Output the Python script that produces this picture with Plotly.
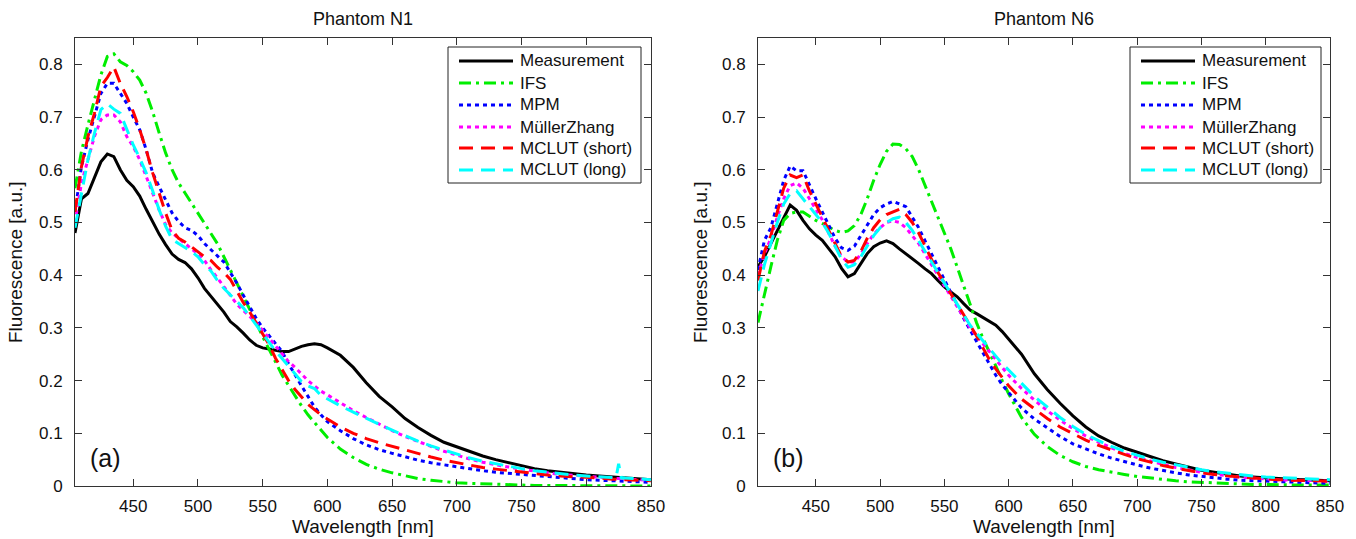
import plotly.graph_objects as go

# ---------------- data ----------------
wavelength = [405, 410, 415, 420, 425, 430, 435, 440, 445, 450,
              455, 460, 465, 470, 475, 480, 485, 490, 495, 500,
              505, 510, 515, 520, 525, 530, 535, 540, 545, 550,
              555, 560, 565, 570, 575, 580, 585, 590, 595, 600,
              610, 620, 630, 640, 650, 660, 670, 680, 690, 700,
              710, 720, 730, 740, 750, 760, 770, 780, 790, 800,
              810, 820, 823, 825, 827, 830, 840, 850]

series_names = ["Measurement", "IFS", "MPM", "MüllerZhang", "MCLUT (short)", "MCLUT (long)"]

# Phantom N1
n1_measurement = [0.480, 0.545, 0.555, 0.585, 0.615, 0.630, 0.625, 0.600, 0.580, 0.568,
                  0.550, 0.525, 0.500, 0.478, 0.458, 0.440, 0.430, 0.424, 0.412, 0.395,
                  0.375, 0.360, 0.345, 0.330, 0.312, 0.302, 0.290, 0.277, 0.267, 0.262,
                  0.260, 0.258, 0.255, 0.255, 0.260, 0.265, 0.268, 0.270, 0.268, 0.262,
                  0.248, 0.225, 0.196, 0.170, 0.150, 0.128, 0.111, 0.096, 0.083, 0.074,
                  0.065, 0.057, 0.050, 0.044, 0.038, 0.033, 0.029, 0.026, 0.023, 0.021,
                  0.019, 0.017, 0.017, 0.016, 0.016, 0.015, 0.014, 0.012]
n1_ifs = [0.565, 0.635, 0.685, 0.735, 0.780, 0.815, 0.820, 0.805, 0.798, 0.786,
          0.770, 0.745, 0.710, 0.670, 0.632, 0.600, 0.575, 0.556, 0.537, 0.518,
          0.500, 0.480, 0.460, 0.435, 0.410, 0.387, 0.363, 0.337, 0.310, 0.283,
          0.260, 0.235, 0.210, 0.190, 0.170, 0.152, 0.135, 0.120, 0.105, 0.092,
          0.070, 0.054, 0.041, 0.032, 0.025, 0.019, 0.014, 0.011, 0.008, 0.006,
          0.005, 0.004, 0.003, 0.002, 0.002, 0.001, 0.001, 0.001, 0.001, 0.001,
          0.001, 0.000, 0.000, 0.000, 0.000, 0.000, 0.000, 0.000]
n1_mpm = [0.520, 0.606, 0.657, 0.700, 0.745, 0.764, 0.764, 0.745, 0.726, 0.700,
          0.676, 0.638, 0.594, 0.568, 0.543, 0.518, 0.502, 0.490, 0.485, 0.475,
          0.460, 0.448, 0.437, 0.425, 0.405, 0.385, 0.362, 0.340, 0.318, 0.300,
          0.285, 0.270, 0.255, 0.232, 0.210, 0.190, 0.170, 0.150, 0.135, 0.122,
          0.105, 0.090, 0.078, 0.069, 0.062, 0.055, 0.049, 0.044, 0.040, 0.036,
          0.032, 0.029, 0.026, 0.024, 0.022, 0.019, 0.017, 0.015, 0.013, 0.012,
          0.011, 0.010, 0.010, 0.010, 0.010, 0.009, 0.008, 0.007]
n1_mullerzhang = [0.500, 0.575, 0.619, 0.663, 0.695, 0.704, 0.704, 0.691, 0.663, 0.644,
                  0.619, 0.587, 0.556, 0.524, 0.496, 0.480, 0.470, 0.460, 0.450, 0.440,
                  0.428, 0.410, 0.395, 0.378, 0.360, 0.345, 0.333, 0.322, 0.310, 0.295,
                  0.280, 0.265, 0.250, 0.236, 0.225, 0.212, 0.200, 0.190, 0.180, 0.173,
                  0.158, 0.143, 0.130, 0.117, 0.105, 0.094, 0.084, 0.075, 0.066, 0.058,
                  0.051, 0.045, 0.040, 0.036, 0.032, 0.028, 0.025, 0.022, 0.020, 0.018,
                  0.016, 0.014, 0.014, 0.014, 0.014, 0.013, 0.012, 0.011]
n1_mclut_short = [0.520, 0.606, 0.663, 0.707, 0.758, 0.775, 0.795, 0.764, 0.739, 0.710,
                  0.676, 0.638, 0.594, 0.556, 0.518, 0.485, 0.470, 0.463, 0.454, 0.445,
                  0.435, 0.428, 0.415, 0.405, 0.392, 0.370, 0.348, 0.330, 0.310, 0.290,
                  0.268, 0.242, 0.220, 0.200, 0.183, 0.168, 0.155, 0.145, 0.135, 0.127,
                  0.112, 0.100, 0.090, 0.082, 0.075, 0.068, 0.061, 0.055, 0.049, 0.044,
                  0.039, 0.035, 0.032, 0.029, 0.026, 0.023, 0.021, 0.019, 0.018, 0.016,
                  0.015, 0.013, 0.013, 0.013, 0.013, 0.012, 0.011, 0.010]
n1_mclut_long = [0.490, 0.556, 0.619, 0.669, 0.714, 0.725, 0.715, 0.707, 0.676, 0.647,
                 0.622, 0.594, 0.560, 0.524, 0.493, 0.468, 0.460, 0.452, 0.445, 0.435,
                 0.420, 0.408, 0.390, 0.375, 0.362, 0.350, 0.338, 0.322, 0.305, 0.288,
                 0.272, 0.256, 0.242, 0.228, 0.212, 0.198, 0.190, 0.185, 0.172, 0.165,
                 0.152, 0.140, 0.128, 0.117, 0.106, 0.095, 0.085, 0.076, 0.068, 0.060,
                 0.053, 0.047, 0.042, 0.037, 0.033, 0.029, 0.026, 0.023, 0.021, 0.019,
                 0.017, 0.016, 0.016, 0.042, 0.016, 0.015, 0.014, 0.012]

# Phantom N6
n6_measurement = [0.416, 0.435, 0.460, 0.485, 0.510, 0.533, 0.523, 0.504, 0.488, 0.476,
                  0.466, 0.450, 0.435, 0.413, 0.397, 0.403, 0.422, 0.441, 0.454, 0.461,
                  0.465, 0.460, 0.450, 0.441, 0.431, 0.422, 0.412, 0.403, 0.390, 0.378,
                  0.368, 0.359, 0.346, 0.334, 0.327, 0.320, 0.313, 0.305, 0.293, 0.278,
                  0.250, 0.213, 0.183, 0.157, 0.133, 0.112, 0.095, 0.083, 0.072, 0.064,
                  0.056, 0.048, 0.042, 0.036, 0.030, 0.026, 0.022, 0.019, 0.017, 0.015,
                  0.014, 0.013, 0.013, 0.013, 0.012, 0.012, 0.011, 0.010]
n6_ifs = [0.310, 0.365, 0.416, 0.466, 0.504, 0.517, 0.520, 0.520, 0.512, 0.504,
          0.498, 0.492, 0.485, 0.481, 0.484, 0.494, 0.515, 0.545, 0.580, 0.610,
          0.635, 0.649, 0.648, 0.640, 0.625, 0.600, 0.570, 0.540, 0.510, 0.480,
          0.450, 0.415, 0.380, 0.345, 0.310, 0.280, 0.255, 0.228, 0.200, 0.175,
          0.130, 0.098, 0.075, 0.058, 0.046, 0.037, 0.031, 0.026, 0.022, 0.018,
          0.015, 0.012, 0.010, 0.008, 0.007, 0.005, 0.004, 0.004, 0.003, 0.003,
          0.002, 0.002, 0.002, 0.002, 0.002, 0.002, 0.002, 0.002]
n6_mpm = [0.410, 0.466, 0.490, 0.535, 0.580, 0.607, 0.598, 0.598, 0.570, 0.545,
          0.520, 0.495, 0.470, 0.452, 0.447, 0.455, 0.475, 0.495, 0.515, 0.528,
          0.535, 0.540, 0.535, 0.530, 0.510, 0.490, 0.465, 0.440, 0.415, 0.390,
          0.365, 0.340, 0.318, 0.296, 0.274, 0.252, 0.230, 0.210, 0.192, 0.177,
          0.148, 0.127, 0.110, 0.094, 0.080, 0.070, 0.061, 0.053, 0.046, 0.040,
          0.034, 0.029, 0.025, 0.021, 0.018, 0.015, 0.013, 0.011, 0.010, 0.009,
          0.008, 0.007, 0.007, 0.007, 0.007, 0.006, 0.006, 0.005]
n6_mullerzhang = [0.400, 0.440, 0.470, 0.510, 0.545, 0.570, 0.575, 0.565, 0.545, 0.525,
                  0.505, 0.480, 0.455, 0.435, 0.425, 0.425, 0.440, 0.460, 0.478, 0.490,
                  0.500, 0.503, 0.500, 0.490, 0.475, 0.460, 0.440, 0.420, 0.400, 0.380,
                  0.360, 0.340, 0.320, 0.300, 0.285, 0.270, 0.255, 0.240, 0.225, 0.210,
                  0.185, 0.163, 0.143, 0.125, 0.109, 0.095, 0.083, 0.072, 0.062, 0.054,
                  0.047, 0.041, 0.035, 0.030, 0.026, 0.022, 0.019, 0.017, 0.015, 0.013,
                  0.012, 0.011, 0.011, 0.011, 0.011, 0.010, 0.010, 0.009]
n6_mclut_short = [0.390, 0.445, 0.475, 0.520, 0.565, 0.590, 0.585, 0.590, 0.560, 0.535,
                  0.510, 0.485, 0.460, 0.435, 0.425, 0.428, 0.445, 0.470, 0.490, 0.505,
                  0.515, 0.520, 0.525, 0.515, 0.500, 0.480, 0.455, 0.430, 0.405, 0.385,
                  0.365, 0.345, 0.325, 0.305, 0.285, 0.262, 0.240, 0.222, 0.205, 0.190,
                  0.165, 0.146, 0.128, 0.112, 0.099, 0.087, 0.077, 0.068, 0.060, 0.052,
                  0.045, 0.039, 0.034, 0.029, 0.025, 0.022, 0.019, 0.017, 0.015, 0.013,
                  0.012, 0.011, 0.011, 0.011, 0.011, 0.010, 0.010, 0.009]
n6_mclut_long = [0.370, 0.420, 0.460, 0.500, 0.535, 0.555, 0.560, 0.545, 0.530, 0.515,
                 0.500, 0.480, 0.455, 0.430, 0.415, 0.420, 0.435, 0.455, 0.475, 0.490,
                 0.500, 0.507, 0.510, 0.500, 0.485, 0.465, 0.445, 0.425, 0.405, 0.385,
                 0.365, 0.345, 0.325, 0.305, 0.290, 0.275, 0.260, 0.245, 0.232, 0.220,
                 0.195, 0.170, 0.150, 0.130, 0.113, 0.098, 0.086, 0.075, 0.066, 0.058,
                 0.051, 0.045, 0.040, 0.035, 0.031, 0.027, 0.024, 0.021, 0.019, 0.017,
                 0.016, 0.015, 0.015, 0.015, 0.015, 0.014, 0.013, 0.012]

x_ticks = [450, 500, 550, 600, 650, 700, 750, 800, 850]
y_ticks = [0, 0.1, 0.2, 0.3, 0.4, 0.5, 0.6, 0.7, 0.8]
y_tick_labels = ["0", "0.1", "0.2", "0.3", "0.4", "0.5", "0.6", "0.7", "0.8"]

panels = [
    ("Phantom N1", "(a)", [n1_measurement, n1_ifs, n1_mpm, n1_mullerzhang, n1_mclut_short, n1_mclut_long]),
    ("Phantom N6", "(b)", [n6_measurement, n6_ifs, n6_mpm, n6_mullerzhang, n6_mclut_short, n6_mclut_long]),
]

# ---------------- styles / layout ----------------
W, H = 1356, 539
FONT = "Liberation Sans, Arial, Helvetica, sans-serif"
TXT = "#111111"
styles = [
    dict(color="#000000", dash="solid", width=3),
    dict(color="#00ee00", dash="12px,5px,3px,5px", width=3),
    dict(color="#0000ff", dash="4px,4px", width=3),
    dict(color="#ff00ff", dash="4px,4px", width=3),
    dict(color="#ff0000", dash="14px,8px", width=3),
    dict(color="#00ffff", dash="14px,8px", width=3),
]

def px(xp):
    return xp / W

def py(yp):
    return 1 - yp / H

x_domains = [[px(75), px(651)], [px(758), px(1330)]]
y_domain = [py(486), py(38)]
legend_boxes = [(448, 641), (1130, 1321)]       # left / right edges (px)
legend_top, legend_bottom = 47, 183
legend_rows = [61, 83, 105, 127, 148, 170]
ylabel_x = [15, 700]
tag_x = [105, 788]

fig = go.Figure()
annotations = []
shapes = []
layout_axes = {}

for p, (title, tag, data) in enumerate(panels):
    xa = "x" if p == 0 else "x2"
    ya = "y" if p == 0 else "y2"
    for name, vals, st in zip(series_names, data, styles):
        fig.add_trace(go.Scatter(
            x=wavelength, y=vals, mode="lines", name=name, showlegend=False,
            line=dict(color=st["color"], dash=st["dash"], width=st["width"]),
            xaxis=xa, yaxis=ya,
        ))
    sfx = "" if p == 0 else "2"
    layout_axes["xaxis" + sfx] = dict(
        domain=x_domains[p], anchor=ya, range=[405, 850],
        tickvals=x_ticks, ticks="inside", ticklen=7, tickcolor="#333",
        mirror="ticks", showline=True, linecolor="#333", linewidth=1,
        showgrid=False, zeroline=False, automargin=False,
        tickfont=dict(family=FONT, size=17, color=TXT), ticklabelstandoff=5,
    )
    layout_axes["yaxis" + sfx] = dict(
        domain=y_domain, anchor=xa, range=[0, 0.85],
        tickvals=y_ticks, ticktext=y_tick_labels, ticks="inside", ticklen=7, tickcolor="#333",
        mirror="ticks", showline=True, linecolor="#333", linewidth=1,
        showgrid=False, zeroline=False, automargin=False,
        tickfont=dict(family=FONT, size=17, color=TXT), ticklabelstandoff=8,
    )
    xc = (x_domains[p][0] + x_domains[p][1]) / 2
    annotations.append(dict(text=title, x=xc, y=py(19), xref="paper", yref="paper",
                            showarrow=False, xanchor="center", yanchor="middle",
                            font=dict(family=FONT, size=18, color=TXT)))
    annotations.append(dict(text="Wavelength [nm]", x=xc, y=py(526), xref="paper", yref="paper",
                            showarrow=False, xanchor="center", yanchor="middle",
                            font=dict(family=FONT, size=19, color=TXT)))
    annotations.append(dict(text="Fluorescence [a.u.]", x=px(ylabel_x[p]), y=(y_domain[0] + y_domain[1]) / 2,
                            xref="paper", yref="paper", textangle=-90,
                            showarrow=False, xanchor="center", yanchor="middle",
                            font=dict(family=FONT, size=19, color=TXT)))
    annotations.append(dict(text=tag, x=px(tag_x[p]), y=py(458),
                            xref="paper", yref="paper", showarrow=False, xanchor="center", yanchor="middle",
                            font=dict(family=FONT, size=25, color=TXT)))

    # legend box (drawn manually so the line samples match the reference length)
    lx0, lx1 = legend_boxes[p]
    shapes.append(dict(type="rect", xref="paper", yref="paper",
                       x0=px(lx0), x1=px(lx1), y0=py(legend_bottom), y1=py(legend_top),
                       line=dict(color="#222", width=1), fillcolor="white", layer="above"))
    for row, name, st in zip(legend_rows, series_names, styles):
        shapes.append(dict(type="line", xref="paper", yref="paper",
                           x0=px(lx0 + 11), x1=px(lx0 + 65), y0=py(row), y1=py(row),
                           line=dict(color=st["color"], dash=st["dash"], width=st["width"]),
                           layer="above"))
        annotations.append(dict(text=name, x=px(lx0 + 70), y=py(row), xref="paper", yref="paper",
                                showarrow=False, xanchor="left", yanchor="middle",
                                font=dict(family=FONT, size=17, color=TXT)))

fig.update_layout(
    width=W, height=H,
    margin=dict(l=0, r=0, t=0, b=0),
    paper_bgcolor="white", plot_bgcolor="white",
    showlegend=False,
    annotations=annotations,
    shapes=shapes,
    **layout_axes,
)

fig.write_html("out.html")
